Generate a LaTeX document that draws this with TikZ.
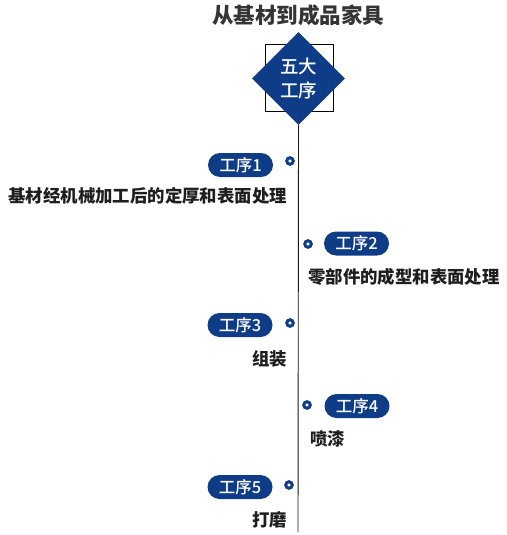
\documentclass[tikz,border=0pt]{standalone}
\usepackage{fontspec}
\setmainfont{Noto Sans CJK SC}
\newfontfamily\cjkmed{Noto Sans CJK SC Medium}
\usetikzlibrary{shapes.geometric,shapes.misc}
\definecolor{navy}{RGB}{14,60,135}
\definecolor{ink}{RGB}{30,30,30}
\tikzset{
  titletext/.style={font=\fontsize{21.5}{24}\selectfont\bfseries, text=ink!90, inner sep=0},
  bigdiamond/.style={diamond, aspect=1, fill=navy, inner sep=0, minimum width=93, minimum height=93,
     text=white, align=center, font=\cjkmed\fontsize{18.5}{24}\selectfont},
  framebox/.style={draw=black, line width=0.8pt, minimum width=68, minimum height=67, inner sep=0},
  pill/.style={rounded rectangle, fill=navy, text=white, inner sep=0, minimum width=65, minimum height=24,
     font=\cjkmed\fontsize{16.5}{18}\selectfont},
  dotring/.style={circle, draw=navy, fill=white, line width=3pt, inner sep=0, minimum size=6.5},
  desc/.style={font=\fontsize{17.4}{20}\selectfont\bfseries, text=ink, inner sep=0},
  axis/.style={draw=black!90, line width=0.9pt}
}
\begin{document}
\begin{tikzpicture}[x=1pt,y=-1pt]
\useasboundingbox[fill=white] (0,0) rectangle (506,535);
\node[titletext] (title) at (298,15) {从基材到成品家具};
\node[framebox] (sq) at (299,77.5) {};
\node[bigdiamond] (dia) at (298.5,78.5) {五大\\工序};
\coordinate (lineend) at (298,532);
\draw[axis] (dia.south) -- (lineend);

\node[pill] (p1) at (240.5,165) {工序1};
\node[dotring] (d1) at (290,161) {};
\node[desc, anchor=east] (t1) at (287,196) {基材经机械加工后的定厚和表面处理};

\node[pill] (p2) at (356.5,243.5) {工序2};
\node[dotring] (d2) at (308,244) {};
\node[desc, anchor=west] (t2) at (308,277) {零部件的成型和表面处理};

\node[pill] (p3) at (240,325) {工序3};
\node[dotring] (d3) at (290,323) {};
\node[desc, anchor=east] (t3) at (287,359) {组装};

\node[pill] (p4) at (357,406) {工序4};
\node[dotring] (d4) at (307,405) {};
\node[desc, anchor=west] (t4) at (310,439) {喷漆};

\node[pill] (p5) at (240,487) {工序5};
\node[dotring] (d5) at (289,485) {};
\node[desc, anchor=east] (t5) at (287,520) {打磨};
\end{tikzpicture}
\end{document}
